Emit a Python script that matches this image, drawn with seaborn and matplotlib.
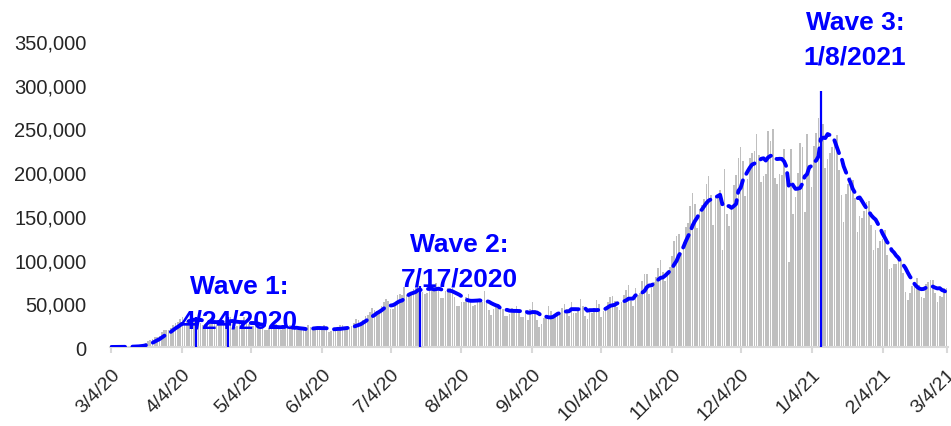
import numpy as np
import pandas as pd
import matplotlib
matplotlib.use("Agg")
import matplotlib.pyplot as plt
import seaborn as sns

# daily new cases (thousands), 3/4/2020 .. 3/4/2021, one list per month
mar20 = [0.03, 0.07, 0.07, 0.11, 0.12, 0.2, 0.29, 0.43, 0.5, 0.74, 0.89, 1.0, 1.3, 2.1,
         3.0, 4.8, 6.3, 7.5, 9.2, 10.9, 11.2, 13.0, 17.7, 19.0, 19.9, 19.5, 21.3, 25.4]
apr20 = [27, 29, 32, 34, 25, 30, 31, 33, 33, 34, 29, 27, 25, 26, 30, 31, 32, 29, 26, 27,
         26, 29, 31, 34, 34, 27, 23, 24, 27, 30]
may20 = [34, 28, 26, 23, 24, 25, 28, 27, 26, 20, 19, 22, 21, 27, 26, 24, 19, 22, 21, 22,
         25, 23, 22, 19, 19, 19, 20, 22, 25, 23, 20]
jun20 = [21, 21, 20, 21, 25, 22, 17, 18, 19, 21, 23, 25, 25, 19, 20, 23, 24, 27, 32, 31,
         26, 31, 35, 37, 40, 45, 42, 41, 41, 47]
jul20 = [51, 55, 53, 44, 44, 50, 60, 61, 60, 69, 60, 59, 59, 66, 68, 75, 70, 63, 61, 62,
         66, 70, 69, 73, 66, 56, 56, 64, 68, 68, 68]
aug20 = [57, 47, 47, 52, 52, 57, 61, 54, 47, 48, 53, 54, 51, 64, 50, 42, 37, 44, 46, 45,
         47, 44, 35, 36, 38, 45, 44, 47, 43, 34, 34]
sep20 = [42, 31, 44, 52, 42, 31, 23, 26, 33, 36, 47, 41, 35, 35, 39, 39, 45, 49, 43, 36,
         52, 39, 39, 44, 55, 47, 35, 32, 43, 39]
oct20 = [45, 54, 49, 34, 41, 44, 51, 57, 58, 53, 46, 42, 51, 59, 65, 71, 53, 47, 67, 60,
         62, 76, 84, 83, 61, 67, 74, 80, 90, 99, 86]
nov20 = [75, 85, 92, 104, 121, 127, 129, 108, 120, 137, 142, 161, 176, 164, 136, 158, 162,
         169, 187, 196, 174, 139, 172, 171, 180, 111, 204, 152, 138, 158]
dec20 = [185, 197, 216, 229, 213, 173, 192, 216, 222, 224, 244, 220, 189, 196, 198, 247,
         236, 249, 193, 186, 198, 197, 227, 194, 97, 227, 152, 172, 199, 233, 229]
jan21 = [154, 244, 208, 183, 230, 245, 262, 293, 255, 205, 215, 222, 229, 235, 242, 203,
         174, 143, 175, 186, 194, 191, 171, 131, 150, 147, 155, 166, 167, 140, 111]
feb21 = [134, 113, 121, 123, 134, 105, 89, 90, 95, 95, 105, 100, 85, 63, 54, 62, 70, 70,
         79, 71, 57, 56, 72, 74, 77, 77, 62, 51]
mar21 = [58, 57, 67, 67]

tick_labels = ["3/4/20", "4/4/20", "5/4/20", "6/4/20", "7/4/20", "8/4/20", "9/4/20",
               "10/4/20", "11/4/20", "12/4/20", "1/4/21", "2/4/21", "3/4/21"]

wave_dates = ["2020-04-10", "2020-04-24", "2020-07-17", "2021-01-08"]
wave_titles = ["Wave 1:", "Wave 2:", "Wave 3:"]
wave_labels = ["4/24/2020", "7/17/2020", "1/8/2021"]

start = pd.Timestamp("2020-03-04")
cases = np.array(mar20 + apr20 + may20 + jun20 + jul20 + aug20 + sep20 + oct20 + nov20
                 + dec20 + jan21 + feb21 + mar21) * 1000
days = np.arange(len(cases))
df = pd.DataFrame({"day": days, "cases": cases})
df["avg"] = df["cases"].rolling(7, min_periods=1).mean()

sns.set_style("white")
plt.rcParams["font.family"] = ["Liberation Sans", "DejaVu Sans"]

fig, ax = plt.subplots(figsize=(9.51, 4.27), dpi=100)
fig.subplots_adjust(left=0.1157, right=0.9968, top=0.9016, bottom=0.185)

sns.barplot(data=df, x="day", y="cases", native_scale=True, color="#BFBFBF",
            saturation=1, width=0.72, errorbar=None, linewidth=0,
            antialiased=False, ax=ax)

wave_idx = [(pd.Timestamp(d) - start).days for d in wave_dates]
ax.vlines(wave_idx, 0, cases[wave_idx], color="#0000FF", lw=1.6, zorder=3)

sns.lineplot(data=df, x="day", y="avg", color="#0000FF", lw=2.8,
             linestyle=(0, (3.5, 1.9)), dash_capstyle="round", ax=ax, zorder=4)

# wave annotations (label center offset from the wave day)
text_pos = [(wave_idx[1] + 5, 70000, 30000), (wave_idx[2] + 17, 118000, 78000),
            (wave_idx[3] + 15, 372000, 332000)]
for (x, y1, y2), t, l in zip(text_pos, wave_titles, wave_labels):
    ax.text(x, y1, t, color="#0000FF", fontsize=19, fontweight="bold",
            ha="center", va="center", zorder=5)
    ax.text(x, y2, l, color="#0000FF", fontsize=19, fontweight="bold",
            ha="center", va="center", zorder=5)

tick_pos = [(pd.Timestamp(d) - start).days for d in
            pd.to_datetime(tick_labels, format="%m/%d/%y")]
ax.set_xticks(tick_pos)
ax.set_xticklabels(tick_labels, rotation=45, ha="right", rotation_mode="anchor")
ax.set_xlim(-0.6, len(cases) - 0.4)
ax.set_ylim(0, 350000)
ax.set_yticks(range(0, 350001, 50000))
ax.yaxis.set_major_formatter(matplotlib.ticker.FuncFormatter(lambda v, p: f"{int(v):,}"))
ax.set_xlabel("")
ax.set_ylabel("")

for s in ["top", "right", "left"]:
    ax.spines[s].set_visible(False)
ax.spines["bottom"].set_color("#D9D9D9")
ax.spines["bottom"].set_linewidth(1.5)
ax.tick_params(axis="x", length=4, width=1.5, color="#D9D9D9", labelsize=14,
               pad=9, bottom=True)
ax.tick_params(axis="y", length=0, labelsize=14.5, pad=17)
ax.grid(False)

fig.savefig("out.png", dpi=100)
